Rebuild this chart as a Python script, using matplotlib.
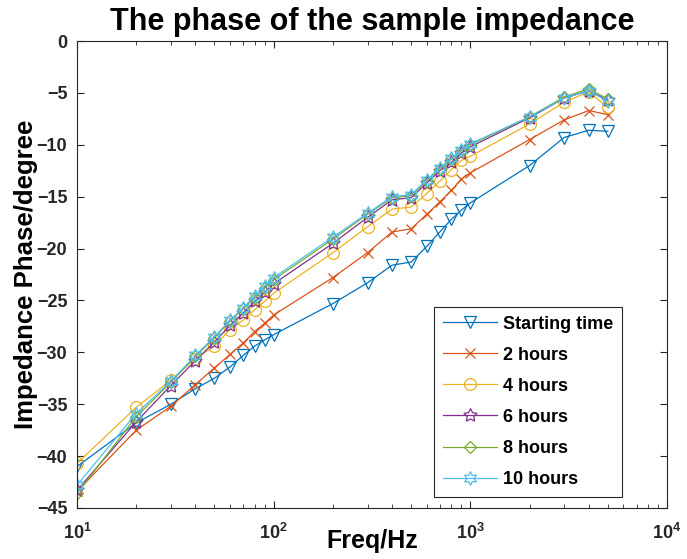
import matplotlib
matplotlib.use("Agg")
import matplotlib.pyplot as plt
import numpy as np

freq = [10, 20, 30, 40, 50, 60, 70, 80, 90, 100, 200, 300, 400, 500, 600, 700, 800, 900,
        1000, 2000, 3000, 4000, 5000]

start_time = [-41.0, -36.8, -35.0, -33.5, -32.5, -31.4, -30.3, -29.4, -28.8, -28.3, -25.3, -23.3,
              -21.6, -21.3, -19.8, -18.4, -17.2, -16.3, -15.6, -12.0, -9.3, -8.6, -8.7]
hours_2 = [-43.4, -37.5, -35.2, -33.1, -31.5, -30.2, -29.1, -28.0, -27.2, -26.4, -22.8, -20.4,
           -18.4, -18.1, -16.7, -15.5, -14.4, -13.3, -12.7, -9.5, -7.6, -6.7, -7.1]
hours_4 = [-40.7, -35.3, -32.7, -30.6, -29.4, -27.8, -26.9, -25.9, -25.1, -24.3, -20.4, -17.9,
           -16.2, -16.0, -14.7, -13.5, -12.4, -11.5, -11.1, -8.0, -5.9, -4.9, -6.4]
hours_6 = [-43.3, -36.7, -33.2, -30.8, -29.0, -27.4, -26.2, -25.1, -24.2, -23.4, -19.5, -17.0,
           -15.3, -15.1, -13.7, -12.5, -11.7, -10.8, -10.2, -7.4, -5.5, -4.8, -5.7]
hours_8 = [-43.6, -36.2, -32.9, -30.4, -28.6, -27.0, -25.8, -24.8, -23.8, -23.0, -19.1, -16.7,
           -15.1, -14.9, -13.5, -12.3, -11.4, -10.6, -10.0, -7.3, -5.4, -4.6, -5.6]
hours_10 = [-42.8, -35.9, -32.8, -30.3, -28.5, -26.9, -25.7, -24.6, -23.6, -22.8, -18.9, -16.6,
            -15.0, -14.8, -13.4, -12.2, -11.3, -10.5, -9.9, -7.3, -5.5, -4.8, -5.8]

labels = ["Starting time", "2 hours", "4 hours", "6 hours", "8 hours", "10 hours"]
yticks = [-45, -40, -35, -30, -25, -20, -15, -10, -5, 0]

plt.rcParams['font.family'] = ['Liberation Sans', 'DejaVu Sans']

colors = ['#0072BD', '#D95319', '#EDB120', '#7E2F8E', '#77AC30', '#4DBEEE']
markers = ['v', 'x', 'o', (5, 1, 0), 'D', (6, 1, 0)]
msizes = [9, 7, 8.5, 10, 6.5, 10]
series = [start_time, hours_2, hours_4, hours_6, hours_8, hours_10]

fig = plt.figure(figsize=(6.87, 5.59), dpi=100)
ax = fig.add_axes([77/687, 1-508/559, 590/687, 467/559])

for s, c, m, ms, lab in zip(series, colors, markers, msizes, labels):
    ax.plot(freq, s, color=c, marker=m, markersize=ms, markerfacecolor='none',
            markeredgecolor=c, markeredgewidth=0.9, linewidth=0.9, label=lab)

ax.set_xscale('log')
ax.set_xlim(10, 1e4)
ax.set_ylim(-45, 0)
ax.set_yticks(yticks)
ax.tick_params(axis='both', which='both', direction='in', top=True, right=True,
               labelsize=13, colors='#262626')
ax.tick_params(which='major', length=5)
ax.tick_params(which='minor', length=3)
ax.tick_params(axis='y', which='major', pad=7)
ax.tick_params(axis='x', which='major', pad=11)
for lbl in ax.get_xticklabels() + ax.get_yticklabels():
    lbl.set_fontweight('bold')
for sp in ax.spines.values():
    sp.set_color('#262626')
    sp.set_linewidth(0.8)

ax.set_title("The phase of the sample impedance", fontsize=22, fontweight='bold', pad=8)
ax.set_xlabel("Freq/Hz", fontsize=18, fontweight='bold')
ax.set_ylabel("Impedance Phase/degree", fontsize=18.5, fontweight='bold')
ax.xaxis.set_label_coords(0.5, -0.045)
ax.yaxis.set_label_coords(-0.066, 0.5)

leg = ax.legend(loc='lower right', bbox_to_anchor=(0.924, 0.0236),
                prop={'weight': 'bold', 'size': 13}, fancybox=False, framealpha=1,
                edgecolor='#262626', handlelength=3.0, labelspacing=0.78,
                borderaxespad=0, handletextpad=0.3, borderpad=0.5)
leg.get_frame().set_linewidth(0.8)

fig.savefig("out.png", dpi=100)
